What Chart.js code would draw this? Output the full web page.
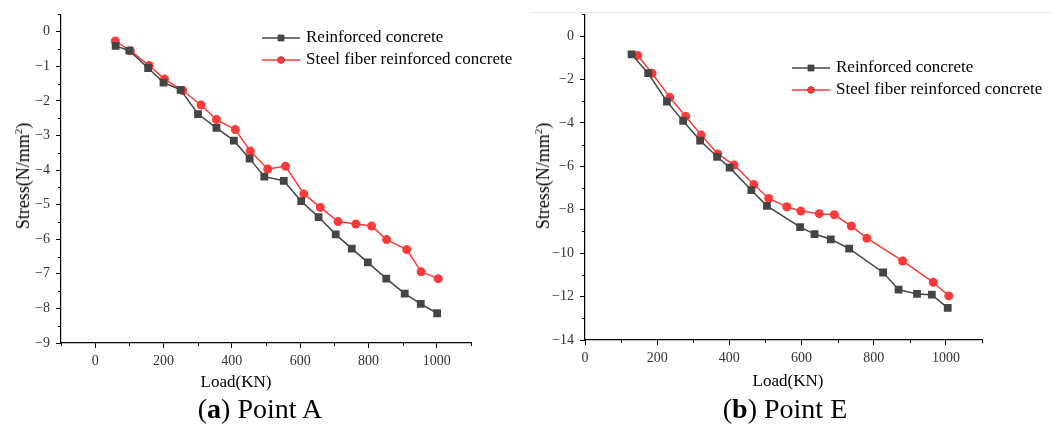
<!DOCTYPE html>
<html>
<head>
<meta charset="utf-8">
<script src="https://cdn.jsdelivr.net/npm/chart.js@4/dist/chart.umd.min.js"></script>
<style>
  body { margin: 0; background: #fff; width: 1053px; height: 424px; position: relative; overflow: hidden; }
  .panel { position: absolute; top: 0; height: 400px; }
  .txt { position: absolute; font-family: "Liberation Serif", "Times New Roman", serif; color: #000; white-space: nowrap; }
  .xtitle { font-size: 17px; transform: translate(-50%, -50%); }
  .ytitle { font-size: 18px; transform: translate(-50%, -50%) rotate(-90deg); }
  .ytitle sup { font-size: 11px; vertical-align: 7px; }
  .caption { font-size: 28px; transform: translate(-50%, -50%); }
  .rule { position: absolute; left: 530px; top: 12px; width: 523px; height: 1px; background: #ececec; }
</style>
</head>
<body>
<div class="rule"></div>
<div class="panel" style="left:0;width:520px"><canvas id="pointA" width="520" height="400"></canvas></div>
<div class="panel" style="left:520px;width:533px"><canvas id="pointE" width="533" height="400"></canvas></div>

<div class="txt ytitle" style="left:23px;top:176px">Stress(N/mm<sup>2</sup>)</div>
<div class="txt xtitle" style="left:236px;top:382px">Load(KN)</div>
<div class="txt caption" style="left:260px;top:409px">(<b>a</b>) Point A</div>

<div class="txt ytitle" style="left:543px;top:176px">Stress(N/mm<sup>2</sup>)</div>
<div class="txt xtitle" style="left:788px;top:381px">Load(KN)</div>
<div class="txt caption" style="left:785px;top:409px">(<b>b</b>) Point E</div>

<script>
// series names
const seriesNames = ['Reinforced concrete', 'Steel fiber reinforced concrete'];

// Point A
const loadA_rc = [60, 100, 155, 200, 250, 301, 355, 406, 452, 495, 552, 603, 654, 704, 751, 798, 852, 906, 953, 1001];
const stressA_rc = [-0.41, -0.55, -1.05, -1.47, -1.68, -2.38, -2.78, -3.15, -3.67, -4.19, -4.31, -4.90, -5.36, -5.86, -6.27, -6.67, -7.14, -7.57, -7.87, -8.14];
const loadA_sf = [59, 103, 158, 203, 256, 310, 355, 410, 454, 505, 557, 611, 659, 711, 763, 809, 853, 912, 954, 1004];
const stressA_sf = [-0.27, -0.55, -0.98, -1.37, -1.70, -2.12, -2.54, -2.83, -3.45, -3.97, -3.89, -4.69, -5.08, -5.49, -5.56, -5.62, -6.01, -6.30, -6.94, -7.14];

// Point E
const loadE_rc = [129, 175, 227, 272, 319, 366, 401, 461, 504, 596, 636, 681, 732, 826, 869, 920, 961, 1005];
const stressE_rc = [-0.84, -1.71, -3.02, -3.91, -4.81, -5.56, -6.06, -7.10, -7.82, -8.80, -9.12, -9.36, -9.79, -10.89, -11.68, -11.88, -11.91, -12.52];
const loadE_sf = [146, 186, 235, 279, 322, 368, 413, 468, 509, 559, 598, 649, 691, 738, 781, 880, 965, 1008];
const stressE_sf = [-0.89, -1.71, -2.82, -3.70, -4.56, -5.43, -5.94, -6.84, -7.48, -7.86, -8.06, -8.18, -8.23, -8.75, -9.31, -10.36, -11.34, -11.97];

// tick labels (major) and minor tick positions
const xTicksA = [0, 200, 400, 600, 800, 1000];
const xMinorA = [-100, 100, 300, 500, 700, 900, 1100];
const yTicksA = [-9, -8, -7, -6, -5, -4, -3, -2, -1, 0];
const yMinorA = [-8.5, -7.5, -6.5, -5.5, -4.5, -3.5, -2.5, -1.5, -0.5, 0.5];

const xTicksE = [0, 200, 400, 600, 800, 1000];
const xMinorE = [100, 300, 500, 700, 900, 1100];
const yTicksE = [-14, -12, -10, -8, -6, -4, -2, 0];
const yMinorE = [-13, -11, -9, -7, -5, -3, -1, 1];

const RC_COLOR = '#454545';
const SF_COLOR = '#fb3a3a';
const FONT = '"Liberation Serif", "Times New Roman", serif';

function toPoints(xs, ys) {
    return xs.map((x, i) => ({ x: x, y: ys[i] }));
}

function fmt(v) {
    return v < 0 ? '\u2212' + Math.abs(v) : String(v);
}

// short outward ticks between the labelled ones
const minorTicks = {
    id: 'minorTicks',
    afterDraw(chart) {
        const ctx = chart.ctx;
        ctx.save();
        ctx.strokeStyle = '#000';
        ctx.lineWidth = 1;
        ['x', 'y'].forEach(id => {
            const scale = chart.scales[id];
            const list = scale.options.minor || [];
            list.forEach(v => {
                const p = Math.round(scale.getPixelForValue(v)) + 0.5;
                ctx.beginPath();
                if (id === 'x') {
                    ctx.moveTo(p, scale.top);
                    ctx.lineTo(p, scale.top + 3);
                } else {
                    ctx.moveTo(scale.right, p);
                    ctx.lineTo(scale.right - 3, p);
                }
                ctx.stroke();
            });
        });
        ctx.restore();
    }
};

// legend entries drawn as line + marker, like the plotted series
const lineLegend = {
    id: 'lineLegend',
    afterDraw(chart, args, opts) {
        const ctx = chart.ctx;
        ctx.save();
        chart.data.datasets.forEach((ds, i) => {
            const y = opts.y + i * opts.gap;
            ctx.strokeStyle = ds.borderColor;
            ctx.lineWidth = 1.5;
            ctx.beginPath();
            ctx.moveTo(opts.x, y);
            ctx.lineTo(opts.x + 38, y);
            ctx.stroke();
            Chart.helpers.drawPoint(ctx, {
                pointStyle: ds.pointStyle,
                radius: ds.pointRadius - 1,
                borderWidth: 0
            }, opts.x + 19, y);
            ctx.fillStyle = ds.pointBackgroundColor;
            ctx.fill();
            ctx.fillStyle = '#000';
            ctx.font = '17px ' + FONT;
            ctx.textBaseline = 'middle';
            ctx.fillText(ds.label, opts.x + 44, y);
        });
        ctx.restore();
    }
};

function makeChart(id, cfg) {
    const tickFont = { family: FONT, size: 14 };
    return new Chart(document.getElementById(id), {
        type: 'scatter',
        data: {
            datasets: [
                {
                    label: seriesNames[0],
                    data: toPoints(cfg.rcX, cfg.rcY),
                    showLine: true,
                    borderColor: RC_COLOR,
                    borderWidth: 1.5,
                    pointStyle: 'rect',
                    pointRadius: 5.5,
                    pointBackgroundColor: RC_COLOR,
                    pointBorderWidth: 0
                },
                {
                    label: seriesNames[1],
                    data: toPoints(cfg.sfX, cfg.sfY),
                    showLine: true,
                    borderColor: SF_COLOR,
                    borderWidth: 1.5,
                    pointStyle: 'circle',
                    pointRadius: 4.5,
                    pointBackgroundColor: SF_COLOR,
                    pointBorderWidth: 0
                }
            ]
        },
        options: {
            responsive: false,
            animation: false,
            layout: { padding: cfg.padding },
            plugins: {
                legend: { display: false },
                tooltip: { enabled: false },
                lineLegend: cfg.legend
            },
            scales: {
                x: {
                    type: 'linear',
                    min: cfg.xMin, max: cfg.xMax,
                    minor: cfg.xMinor,
                    afterBuildTicks: s => { s.ticks = cfg.xTicks.map(v => ({ value: v })); },
                    afterFit: s => { s.height = cfg.xHeight; },
                    grid: { drawOnChartArea: false, drawTicks: true, tickLength: 5, color: '#000' },
                    border: { color: '#000', width: 1.2 },
                    ticks: { font: tickFont, color: '#333', padding: 5, maxRotation: 0, callback: v => fmt(v) }
                },
                y: {
                    type: 'linear',
                    min: cfg.yMin, max: cfg.yMax,
                    minor: cfg.yMinor,
                    afterBuildTicks: s => { s.ticks = cfg.yTicks.map(v => ({ value: v })); },
                    afterFit: s => { s.width = cfg.yWidth; },
                    grid: { drawOnChartArea: false, drawTicks: true, tickLength: 5, color: '#000' },
                    border: { color: '#000', width: 1.2 },
                    ticks: { font: tickFont, color: '#333', padding: 6, callback: v => fmt(v) }
                }
            }
        },
        plugins: [minorTicks, lineLegend]
    });
}

makeChart('pointA', {
    rcX: loadA_rc, rcY: stressA_rc, sfX: loadA_sf, sfY: stressA_sf,
    xMin: -100, xMax: 1100, xTicks: xTicksA, xMinor: xMinorA,
    yMin: -9, yMax: 0.5, yTicks: yTicksA, yMinor: yMinorA,
    yWidth: 61, xHeight: 57,
    padding: { left: 0, right: 49, top: 12, bottom: 0 },
    legend: { x: 262, y: 38, gap: 22 }
});

makeChart('pointE', {
    rcX: loadE_rc, rcY: stressE_rc, sfX: loadE_sf, sfY: stressE_sf,
    xMin: 0, xMax: 1100, xTicks: xTicksE, xMinor: xMinorE,
    yMin: -14, yMax: 1, yTicks: yTicksE, yMinor: yMinorE,
    yWidth: 65, xHeight: 60,
    padding: { left: 0, right: 71, top: 13, bottom: 0 },
    legend: { x: 272, y: 68, gap: 22 }
});
</script>
</body>
</html>
